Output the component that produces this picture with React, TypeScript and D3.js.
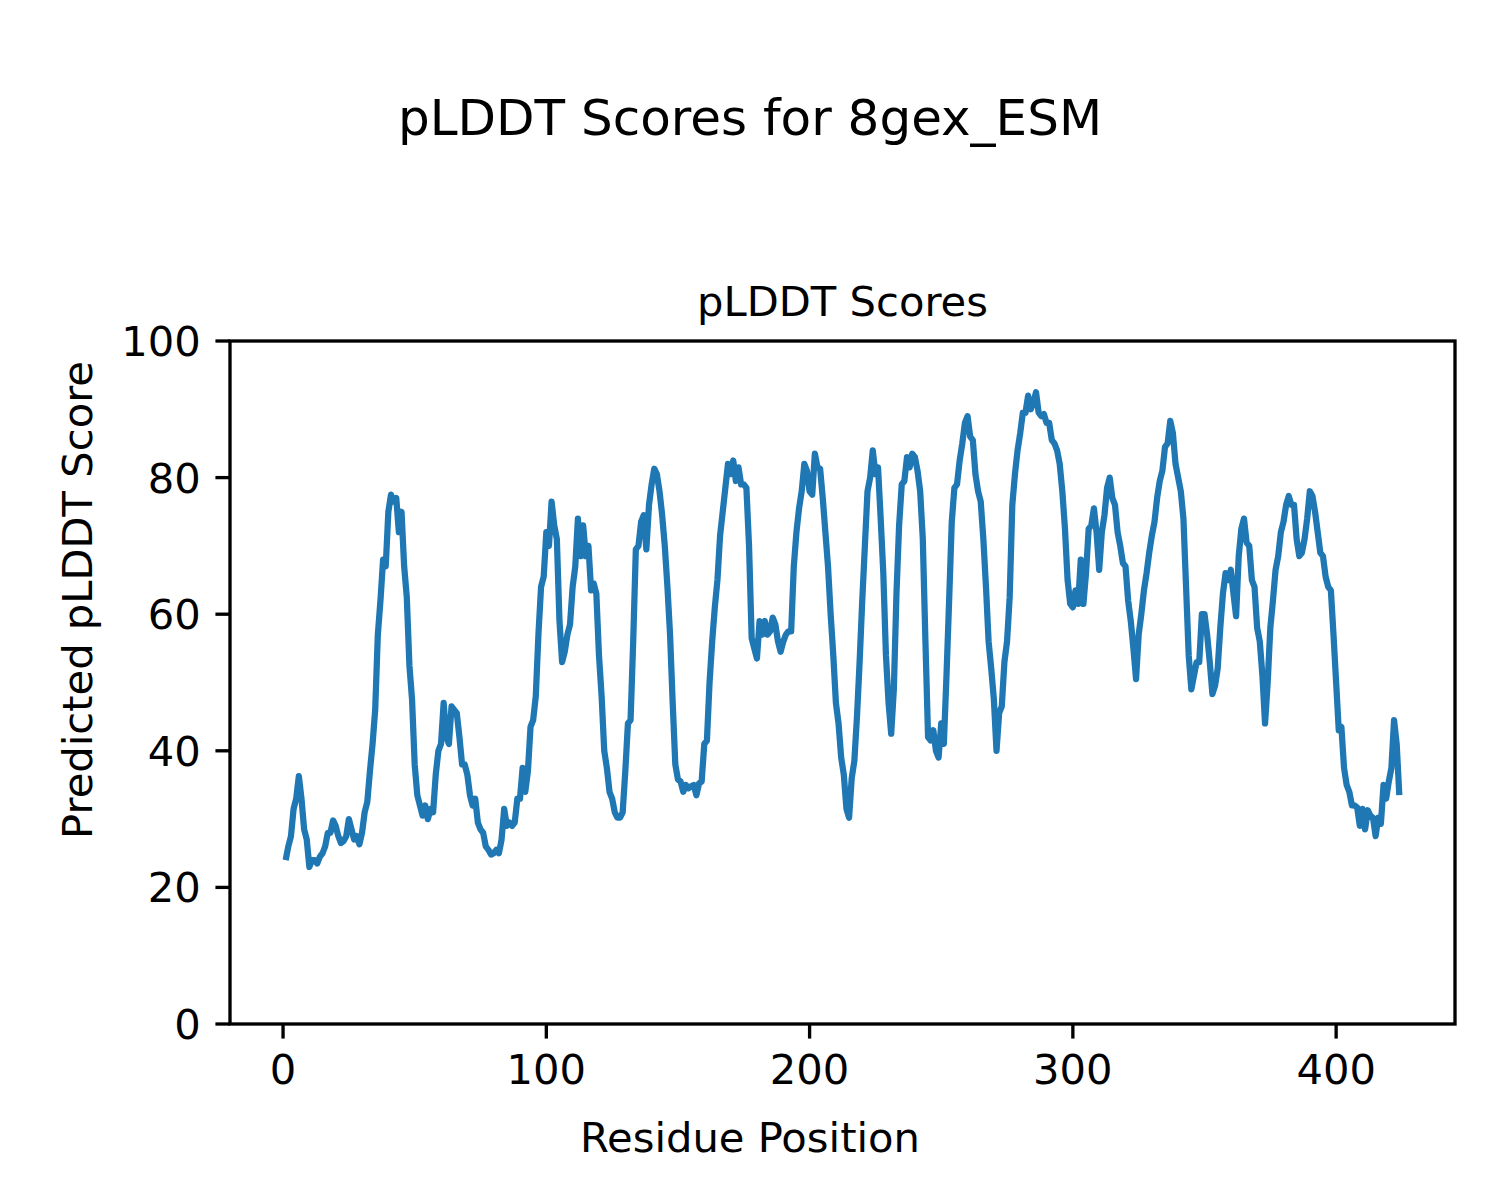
import React from "react";
import * as d3 from "d3";

// pLDDT score per residue, residues 1..424
const plddt: number[] = [
  24, 26, 27.5, 31.5, 33, 36.3, 33, 28.5, 27, 23,
  24, 24, 23.5, 24.5, 25, 26, 28, 28, 29.8, 29,
  27.5, 26.5, 26.8, 27.5, 30, 28.5, 27, 27.5, 26.3, 28,
  31, 32.5, 37, 41, 46, 57, 62, 68, 67, 75,
  77.5, 76.5, 77, 72, 75, 67, 62.5, 52.5, 47.5, 38,
  33.5, 32, 30.5, 32, 30, 31.5, 31, 36.5, 40, 41,
  47, 42, 41, 46.5, 46, 45.5, 42, 38, 38, 36.5,
  33.5, 32, 33, 29.5, 28.5, 28, 26, 25.5, 24.8, 25,
  25.5, 25, 27, 31.5, 29, 29.5, 29, 29.5, 33, 33,
  37.5, 34, 37, 43.5, 44.5, 48, 57, 64, 65.5, 72,
  70, 76.5, 73, 71, 59, 53, 54.5, 57, 58.5, 64,
  67, 74, 68.5, 73, 68.5, 70, 63.5, 64.5, 63, 54,
  48, 40, 37.5, 34, 33, 31, 30.2, 30.2, 31, 37,
  44, 44.5, 56, 69.5, 70, 73.5, 74.5, 69.5, 76, 79,
  81.3, 80.5, 78, 74.5, 70, 64, 57, 47, 38, 35.8,
  35.5, 34, 35, 34.5, 34.8, 35, 33.5, 35.2, 35.5, 41,
  41.5, 50, 56, 61, 65, 71.5, 75, 78.5, 82, 80.5,
  82.5, 79.5, 81.5, 79, 79, 78.5, 70, 56.5, 55, 53.5,
  59, 57, 59, 57, 57.5, 59.5, 58.5, 56, 54.5, 56,
  57, 57.5, 57.5, 67, 72, 75.5, 78, 82, 81, 78,
  77.5, 83.5, 81.5, 81.3, 77, 72, 67, 60, 54, 47,
  44, 39, 36.5, 31.5, 30.2, 36, 38.5, 45, 53, 62,
  70, 78, 80, 84, 80.5, 81.5, 74, 66, 54, 47,
  42.5, 49, 63, 73, 79, 79.5, 83, 81.5, 83.5, 83,
  81, 78, 71, 56, 42, 41.5, 43, 40, 39, 44,
  41, 51, 62, 73.5, 78.5, 79, 82.5, 85, 88, 89,
  86, 85.5, 80.5, 78, 76.5, 71, 64, 56, 52, 47.5,
  40, 45.5, 46.5, 53, 56, 62.5, 76, 80.5, 84, 86.5,
  89.5, 89.5, 92, 90, 91, 92.5, 89.5, 89, 89.3, 88,
  88, 85.5, 85, 84, 82, 78, 72.5, 65, 61.5, 61,
  63.5, 61.5, 68, 61.5, 66, 72.5, 73, 75.5, 72, 66.5,
  72, 74.5, 78.5, 80, 77, 76, 72, 70, 67.5, 67,
  62, 59, 55, 50.5, 57, 60, 63.5, 66, 69, 71.5,
  73.5, 77, 79.5, 81, 84.5, 85, 88.3, 86.5, 82, 80,
  78, 74, 64, 54, 49, 51, 53, 53, 60, 60,
  57, 53, 48.3, 49.5, 52, 58, 63, 66, 65, 66.5,
  63, 59.7, 68.5, 72.5, 74, 70.5, 70, 65, 64, 58,
  56, 51, 44, 50, 58, 62, 66.5, 68.5, 72, 73.5,
  76, 77.3, 76, 76, 71, 68.5, 69, 71, 74, 78,
  77.3, 75, 72, 69, 68.5, 65.5, 64, 63.5, 57, 50,
  43, 43.5, 37.5, 35, 34, 32, 32, 31.7, 29, 31.5,
  28.5, 31.3, 30.5, 30.2, 27.5, 30.2, 29.3, 35, 33, 35.5,
  37.5, 44.5, 41, 33.5,
];
const residues: number[] = plddt.map((_, i) => i + 1);

const xTicks = [0, 100, 200, 300, 400];
const yTicks = [0, 20, 40, 60, 80, 100];

const suptitle = "pLDDT Scores for 8gex_ESM";
const axTitle = "pLDDT Scores";
const xLabel = "Residue Position";
const yLabel = "Predicted pLDDT Score";

export default function App() {
  const W = 1500, H = 1200;
  const left = 230, right = 1455, top = 341, bottom = 1024;
  const [x0, x1] = d3.extent(residues) as [number, number];
  const margin = (x1 - x0) * 0.05;
  const x = d3.scaleLinear().domain([x0 - margin, x1 + margin]).range([left, right]);
  const y = d3.scaleLinear().domain([0, 100]).range([bottom, top]);
  const line = d3
    .line<number>()
    .x((_, i) => x(residues[i]))
    .y((d) => y(d));
  const font = "DejaVu Sans";
  const fs = 41.67;
  const lw = 3.33;
  const tl = 14.58;
  return (
    <svg
      width={W}
      height={H}
      style={{ position: "absolute", left: 0, top: 0, background: "#fff" }}
      fontFamily={font}
    >
      <rect x={0} y={0} width={W} height={H} fill="#fff" />
      <text x={750} y={135} fontSize={50} textAnchor="middle" fill="#000">
        {suptitle}
      </text>
      <text x={(left + right) / 2} y={316} fontSize={fs} textAnchor="middle" fill="#000">
        {axTitle}
      </text>
      <path
        d={line(plddt) || ""}
        fill="none"
        stroke="#1f77b4"
        strokeWidth={6.25}
        strokeLinejoin="round"
        strokeLinecap="butt"
      />
      <rect
        x={left}
        y={top}
        width={right - left}
        height={bottom - top}
        fill="none"
        stroke="#000"
        strokeWidth={lw}
        strokeLinejoin="miter"
      />
      {xTicks.map((t) => (
        <g key={"x" + t}>
          <line x1={x(t)} x2={x(t)} y1={bottom} y2={bottom + tl} stroke="#000" strokeWidth={lw} />
          <text x={x(t)} y={1084} fontSize={fs} textAnchor="middle" fill="#000">
            {t}
          </text>
        </g>
      ))}
      {yTicks.map((t) => (
        <g key={"y" + t}>
          <line x1={left - tl} x2={left} y1={y(t)} y2={y(t)} stroke="#000" strokeWidth={lw} />
          <text
            x={left - tl - 14.58}
            y={y(t)}
            dy="0.36em"
            fontSize={fs}
            textAnchor="end"
            fill="#000"
          >
            {t}
          </text>
        </g>
      ))}
      <text x={750} y={1152} fontSize={fs} textAnchor="middle" fill="#000">
        {xLabel}
      </text>
      <text
        transform={`translate(92, 600) rotate(-90)`}
        fontSize={fs}
        textAnchor="middle"
        fill="#000"
      >
        {yLabel}
      </text>
    </svg>
  );
}
